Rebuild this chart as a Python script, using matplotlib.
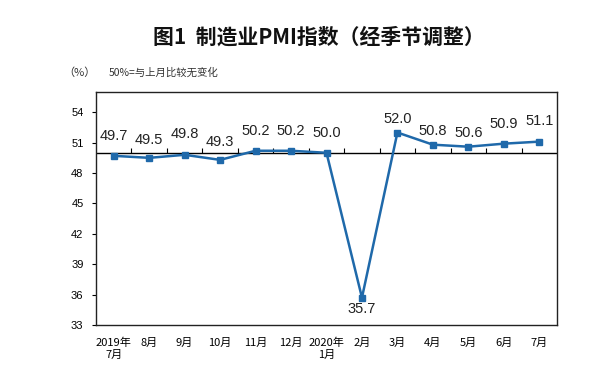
import matplotlib
matplotlib.use("Agg")
import matplotlib.pyplot as plt

plt.rcParams['font.family'] = ['Noto Sans CJK SC', 'DejaVu Sans']

categories = ["2019年\n7月", "8月", "9月", "10月", "11月", "12月", "2020年\n1月",
              "2月", "3月", "4月", "5月", "6月", "7月"]
pmi = [49.7, 49.5, 49.8, 49.3, 50.2, 50.2, 50.0, 35.7, 52.0, 50.8, 50.6, 50.9, 51.1]
yticks = [33, 36, 39, 42, 45, 48, 51, 54]
baseline = 50

# label offsets in points (style only)
label_offsets = [14, 13, 15, 13, 14, 14, 14, -8, 10, 10, 10, 14, 15]

line_color = "#1f69aa"

fig = plt.figure(figsize=(6.15, 3.79), dpi=100)
ax = fig.add_axes([96/615, 1-325/379, (557-96)/615, (325-92)/379])

x = list(range(len(pmi)))
ax.plot(x, pmi, color=line_color, lw=1.8, marker='s', ms=4, zorder=3)
ax.set_xlim(-0.5, len(pmi)-0.5)
ax.set_ylim(33, 56)
ax.set_yticks(yticks)
ax.tick_params(axis='y', direction='out', length=3, labelsize=8, pad=6)
for lab in ax.get_yticklabels():
    lab.set_family(['Liberation Sans', 'DejaVu Sans'])
ax.set_xticks(x)
ax.set_xticklabels(categories, fontsize=8, linespacing=1.3)
ax.tick_params(axis='x', length=0, pad=9)

ax.axhline(baseline, color='black', lw=1, zorder=2)
ax.vlines([i + 0.5 for i in range(len(pmi)-1)], baseline, baseline + 0.45,
          color='black', lw=0.8, zorder=2)

for s in ax.spines.values():
    s.set_linewidth(1)
    s.set_color('#222222')

for xi, v, off in zip(x, pmi, label_offsets):
    ax.annotate(f"{v:.1f}", (xi, v), xytext=(0, off), textcoords='offset points',
                ha='center', va='center', fontsize=10.5, color='#222222',
                family=['Liberation Sans', 'DejaVu Sans'])

fig.text(0.518, 1-37/379, "图1  制造业PMI指数（经季节调整）", ha='center', va='center',
         fontsize=15, fontweight='bold', color='#111111')
fig.text(63/615, 1-73/379, "（%）", ha='left', va='center', fontsize=8, color='#333333')
fig.text(109/615, 1-73/379, "50%=与上月比较无变化", ha='left', va='center', fontsize=7.5,
         color='#333333')

fig.savefig("out.png", dpi=100)
